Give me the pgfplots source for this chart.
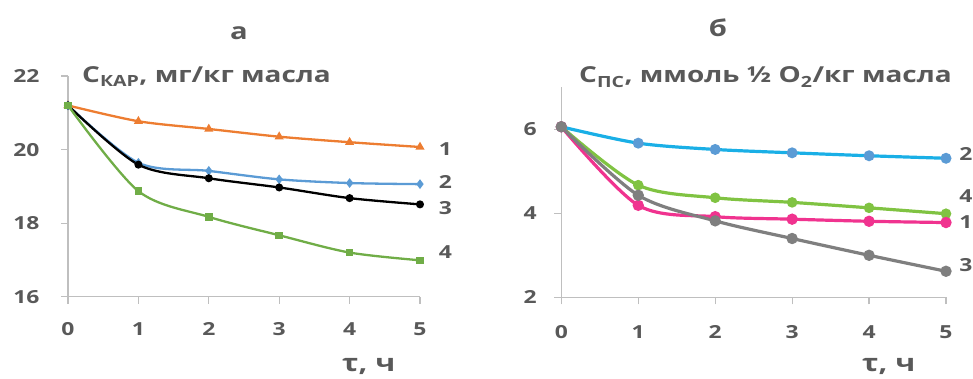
\documentclass[border=0pt]{standalone}
\usepackage{fontspec}
\setmainfont{Open Sans}[FakeStretch=1.27]
\usepackage{pgfplots}
\pgfplotsset{compat=1.18}
\definecolor{txt}{HTML}{595959}
\definecolor{axl}{HTML}{BFBFBF}
\definecolor{c1}{HTML}{ED7D31}
\definecolor{c2}{HTML}{5B9BD5}
\definecolor{c4}{HTML}{70AD47}
\definecolor{r2}{HTML}{1AAFE6}
\definecolor{r2m}{HTML}{5B9BD5}
\definecolor{r4}{HTML}{80C342}
\definecolor{r1}{HTML}{F0338F}
\definecolor{r3}{HTML}{7F7F7F}
\tikzset{sl/.style={font=\bfseries\fontsize{18}{18}\selectfont, text=txt}}
\pgfplotsset{
  myax/.style={
    scale only axis, clip=false,
    axis x line*=bottom, axis y line*=left,
    axis line style={axl, line width=1.2pt, -},
    tick style={axl, line width=1.2pt},
    tick align=outside, major tick length=7pt,
    xmin=0, xmax=5, xtick={0,...,5},
    /pgf/number format/assume math mode=true,
    tick label style={font=\bfseries\fontsize{18}{18}\selectfont, text=txt},
  },
}
\begin{document}
\begin{tikzpicture}
% left
\begin{axis}[myax, at={(68pt,81.3pt)}, anchor=south west, width=352pt, height=220.7pt,
  ymin=16, ymax=22, ytick={16,18,20,22},
  xticklabel style={yshift=-15pt}, yticklabel style={xshift=-18pt}]
\addplot[c1, line width=2.3pt, smooth, tension=0.5, mark=triangle*, mark size=3pt] coordinates {(0,21.2)(1,20.77)(2,20.56)(3,20.35)(4,20.2)(5,20.07)};
\addplot[c2, line width=2.3pt, smooth, tension=0.5, mark=diamond*, mark size=3pt] coordinates {(0,21.2)(1,19.64)(2,19.42)(3,19.19)(4,19.09)(5,19.06)};
\addplot[black, line width=2.3pt, smooth, tension=0.5, mark=*, mark size=2.8pt] coordinates {(0,21.2)(1,19.59)(2,19.22)(3,18.97)(4,18.68)(5,18.51)};
\addplot[c4, line width=2.3pt, smooth, tension=0.5, mark=square*, mark size=2.6pt] coordinates {(0,21.2)(1,18.87)(2,18.17)(3,17.67)(4,17.2)(5,16.99)};
\node[sl] at (axis cs:5.36,20.0) {1};
\node[sl] at (axis cs:5.36,19.12) {2};
\node[sl] at (axis cs:5.36,18.41) {3};
\node[sl] at (axis cs:5.36,17.22) {4};
\end{axis}
% right
\begin{axis}[myax, at={(561.3pt,80.7pt)}, anchor=south west, width=384.7pt, height=210pt,
  ymin=2, ymax=7, ytick={2,4,6},
  xticklabel style={yshift=-18pt}, yticklabel style={xshift=-14pt}]
\addplot[r2, line width=3.2pt, smooth, tension=0.5, mark=*, mark size=3.8pt, mark options={fill=r2m, draw=r2m}] coordinates {(0,6.06)(1,5.67)(2,5.52)(3,5.44)(4,5.37)(5,5.31)};
\addplot[r4, line width=3.2pt, smooth, tension=0.5, mark=*, mark size=3.6pt] coordinates {(0,6.06)(1,4.67)(2,4.37)(3,4.26)(4,4.13)(5,3.99)};
\addplot[r1, line width=3.2pt, smooth, tension=0.5, mark=*, mark size=4pt] coordinates {(0,6.06)(1,4.19)(2,3.92)(3,3.86)(4,3.81)(5,3.78)};
\addplot[r3, line width=3.2pt, smooth, tension=0.5, mark=*, mark size=4pt] coordinates {(0,6.06)(1,4.43)(2,3.82)(3,3.40)(4,3.0)(5,2.62)};
\node[sl, anchor=west, inner sep=0pt] at (axis cs:5.17,5.41) {2};
\node[sl, anchor=west, inner sep=0pt] at (axis cs:5.17,4.41) {4};
\node[sl, anchor=west, inner sep=0pt] at (axis cs:5.17,3.79) {1};
\node[sl, anchor=west, inner sep=0pt] at (axis cs:5.17,2.77) {3};
\end{axis}
% titles and labels
\node[anchor=base, text=txt, font=\bfseries\fontsize{23}{23}\selectfont] at (239pt,338pt) {а};
\node[anchor=base, text=txt, font=\bfseries\fontsize{23}{23}\selectfont] at (718pt,341pt) {б};
\node[anchor=base west, inner sep=0pt, text=txt, font=\bfseries\fontsize{22}{22}\selectfont] at (82pt,295pt) {С\textsubscript{КАР}, мг/кг масла};
\node[anchor=base west, inner sep=0pt, text=txt, font=\bfseries\fontsize{22}{22}\selectfont] at (579pt,295pt) {С\textsubscript{ПС}, ммоль ½ О\textsubscript{2}/кг масла};
\node[anchor=base west, inner sep=0pt, text=txt, font=\bfseries\fontsize{24}{24}\selectfont] at (342pt,7pt) {τ, ч};
\node[anchor=base west, inner sep=0pt, text=txt, font=\bfseries\fontsize{24}{24}\selectfont] at (862pt,7pt) {τ, ч};
\pgfresetboundingbox
\path[use as bounding box] (0pt,0pt) rectangle (973pt,378pt);
\end{tikzpicture}
\end{document}
